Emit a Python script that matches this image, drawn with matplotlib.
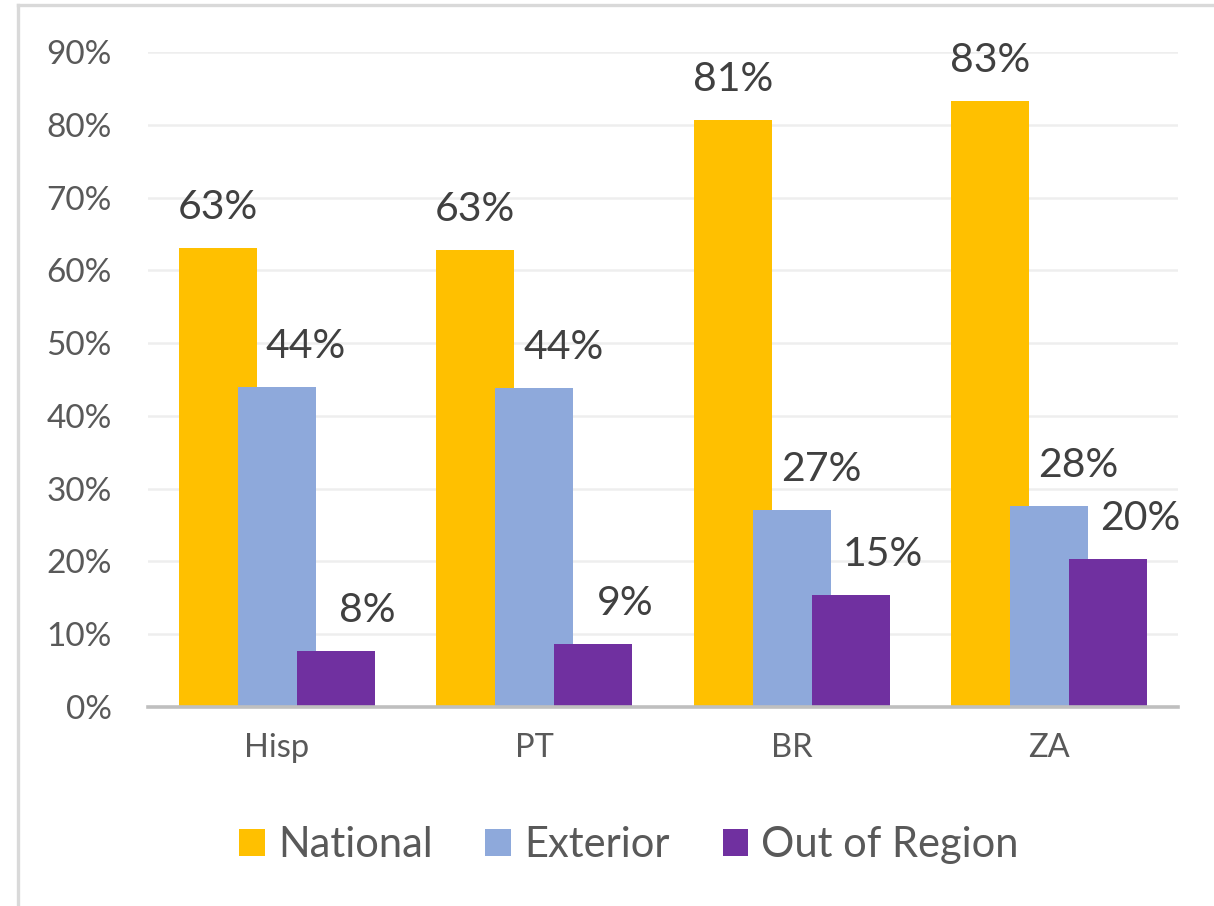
import numpy as np
import matplotlib
matplotlib.use('Agg')
import matplotlib.pyplot as plt
from matplotlib.lines import Line2D

plt.rcParams['font.family'] = ['Lato', 'DejaVu Sans']

categories = ['Hisp', 'PT', 'BR', 'ZA']
series = ['National', 'Exterior', 'Out of Region']
national = [63.1, 62.8, 80.6, 83.2]
exterior = [44.0, 43.8, 27.1, 27.6]
out_of_region = [7.7, 8.6, 15.4, 20.3]
values = [national, exterior, out_of_region]

colors = ['#FFC000', '#8EA9DB', '#7030A0']
label_dx = [0, 21, 23]  # points, labels sit right of the nominal bar centre

fig = plt.figure(figsize=(12.14, 9.06), dpi=100)
ax = fig.add_axes([148/1214, 1 - 707/906, 1030/1214, 655/906])

x = np.arange(len(categories))
width = 0.303
step = 0.229

for k, (name, vals, col) in enumerate(zip(series, values, colors)):
    pos = x + (k - 1) * step
    bars = ax.bar(pos, vals, width=width, color=col, label=name, zorder=2 + k)
    for b, v in zip(bars, vals):
        ax.annotate(f'{v:.0f}%', (b.get_x() + b.get_width() / 2, v),
                    xytext=(label_dx[k], 16), textcoords='offset points',
                    ha='center', va='bottom', fontsize=29.5, color='#404040',
                    zorder=10)

ax.set_xlim(-0.5, 3.5)
ax.set_ylim(0, 90)
ax.set_yticks(np.arange(0, 91, 10))
ax.set_yticklabels([f'{t}%' for t in range(0, 91, 10)])
ax.set_xticks(x)
ax.set_xticklabels(categories)
ax.tick_params(axis='y', length=0, pad=26, labelsize=24, labelcolor='#595959')
ax.tick_params(axis='x', length=0, pad=19, labelsize=23.5, labelcolor='#595959')

ax.grid(axis='y', color='#EEEEEE', linewidth=1.8, zorder=0)
ax.set_axisbelow(True)
for s in ['top', 'right', 'left']:
    ax.spines[s].set_visible(False)
ax.spines['bottom'].set_color('#BFBFBF')
ax.spines['bottom'].set_linewidth(2.6)
ax.spines['bottom'].set_zorder(8)

leg = fig.legend(loc='center', bbox_to_anchor=(629/1214, 1 - 845/906), ncol=3,
                 frameon=False, fontsize=30, handlelength=0.62, handleheight=0.62,
                 handletextpad=0.31, columnspacing=1.27, labelcolor='#595959')

# chart-area border (top and left edges only visible)
fig.add_artist(Line2D([18/1214, 1], [1 - 5/906, 1 - 5/906], color='#D9D9D9', lw=2.4))
fig.add_artist(Line2D([18/1214, 18/1214], [0, 1 - 5/906], color='#D9D9D9', lw=2.4))

plt.savefig('out.png', dpi=100)
